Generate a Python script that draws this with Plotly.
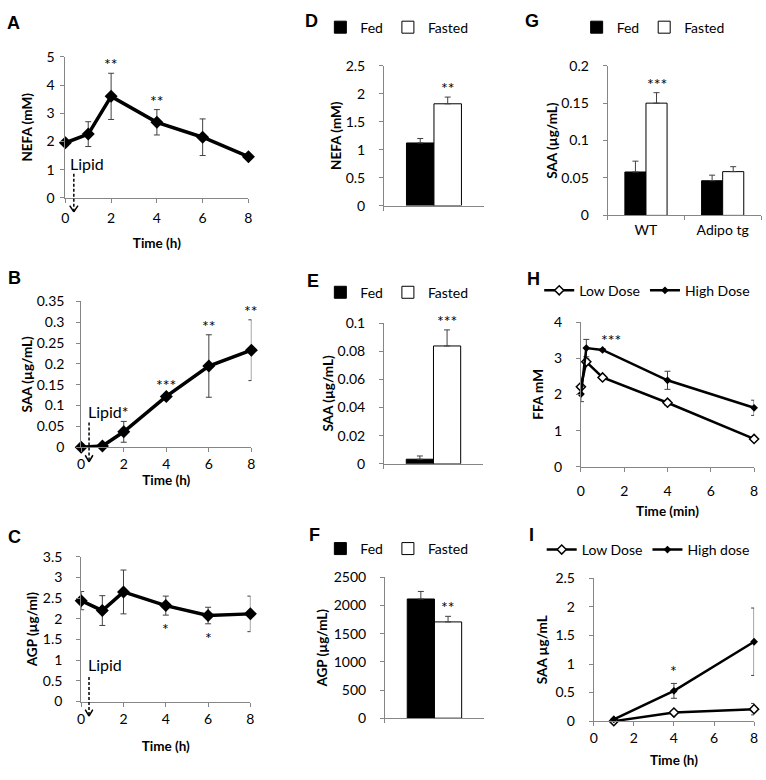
import plotly.graph_objects as go

# ---------------- data ----------------
TIME_H = [0, 1, 2, 4, 6, 8]
TIME_TICKS = [0, 2, 4, 6, 8]

A_NEFA = [1.95, 2.26, 3.60, 2.68, 2.15, 1.46]
A_ERR = [0.10, 0.44, 0.82, 0.45, 0.65, 0.10]
A_SIG = ["", "", "**", "**", "", ""]
A_YTICKS = [0, 1, 2, 3, 4, 5]

B_SAA = [0.0, 0.003, 0.037, 0.122, 0.195, 0.233]
B_ERR = [0.0, 0.002, 0.025, 0.005, 0.075, 0.073]
B_SIG = ["", "", "", "***", "**", "**"]   # the 2 h star is written as "Lipid*"
B_YTICKS = [0, 0.05, 0.1, 0.15, 0.2, 0.25, 0.3, 0.35]

C_AGP = [2.44, 2.20, 2.65, 2.32, 2.08, 2.12]
C_ERR = [0.22, 0.36, 0.53, 0.23, 0.20, 0.43]
C_SIG = ["", "", "", "*", "*", ""]
C_YTICKS = [0, 0.5, 1, 1.5, 2, 2.5, 3, 3.5]

CONDITIONS = ["Fed", "Fasted"]
SINGLE_GROUP = ["All mice"]

D_NEFA = [1.12, 1.82]
D_ERR = [0.08, 0.12]
D_SIG = ["", "**"]
D_YTICKS = [0, 0.5, 1, 1.5, 2, 2.5]

E_SAA = [0.0033, 0.0837]
E_ERR = [0.0023, 0.0114]
E_SIG = ["", "***"]
E_YTICKS = [0, 0.02, 0.04, 0.06, 0.08, 0.1]

F_AGP = [2116, 1709]
F_ERR = [134, 99]
F_SIG = ["", "**"]
F_YTICKS = [0, 500, 1000, 1500, 2000, 2500]

G_GROUPS = ["WT", "Adipo tg"]
G_FED = [0.058, 0.0463]
G_FED_ERR = [0.0145, 0.0075]
G_FASTED = [0.150, 0.0585]
G_FASTED_ERR = [0.014, 0.0066]
G_SIG = ["***", ""]
G_YTICKS = [0, 0.05, 0.1, 0.15, 0.2]

H_TIME = [0, 0.25, 1, 4, 8]
H_LOW = [2.21, 2.90, 2.47, 1.77, 0.77]
H_LOW_ERR = [0.22, 0.08, 0.05, 0.07, 0.05]
H_HIGH = [2.01, 3.28, 3.23, 2.39, 1.63]
H_HIGH_ERR = [0.21, 0.24, 0.03, 0.25, 0.21]
H_SIG = ["", "", "***", "", ""]
H_YTICKS = [0, 1, 2, 3, 4]

I_TIME = [1, 4, 8]
I_LOW = [0.0, 0.15, 0.21]
I_LOW_ERR = [0.01, 0.03, 0.10]
I_HIGH = [0.03, 0.53, 1.39]
I_HIGH_ERR = [0.01, 0.13, 0.59]
I_SIG = ["", "*", ""]
I_YTICKS = [0, 0.5, 1, 1.5, 2, 2.5]

LIPID_TIME = 0.37

# ---------------- styling ----------------
W, H = 766, 780
AXC = "#868686"
ERRC = "#404040"
FONT = "Lato"
TICKFONT = dict(family=FONT, size=14, color="black")
TITLEFONT = dict(family=FONT, size=13.5, color="black", weight="bold")
LEGFONT = dict(family=FONT, size=14, color="black")
STARFONT = dict(family=FONT, size=16, color="black")


def px_x(p0, p1):
    return [p0 / W, p1 / W]


def px_y(top, bottom):
    return [1 - bottom / H, 1 - top / H]


def ax_id(n, letter):
    return letter if n == 1 else f"{letter}{n}"


def fmt(v):
    return f"{v:g}"


fig = go.Figure()
layout = dict(
    width=W, height=H, margin=dict(l=0, r=0, t=0, b=0),
    paper_bgcolor="white", plot_bgcolor="white",
    barmode="group", bargap=0.45, bargroupgap=0,
    font=dict(family=FONT, color="black"),
)
annotations = []
shapes = []


def yaxis(n, dom, xn, ticks, title, standoff, labelstandoff=7):
    layout[f"yaxis{'' if n == 1 else n}"] = dict(
        domain=dom, anchor=ax_id(xn, "x"), range=[ticks[0], ticks[-1]],
        tickmode="array", tickvals=ticks, ticktext=[fmt(t) for t in ticks],
        showline=True, linecolor=AXC, linewidth=1, ticks="outside", ticklen=4,
        tickcolor=AXC, showgrid=False, zeroline=False, tickfont=TICKFONT,
        ticklabelstandoff=labelstandoff,
        title=dict(text=title, font=TITLEFONT, standoff=standoff), fixedrange=True,
    )


def time_xaxis(n, dom, title, standoff, labelstandoff):
    layout[f"xaxis{'' if n == 1 else n}"] = dict(
        domain=dom, anchor=ax_id(n, "y"), range=[0, 8],
        tickmode="array", tickvals=TIME_TICKS, ticktext=[fmt(t) for t in TIME_TICKS],
        showline=True, linecolor=AXC, linewidth=1, ticks="outside", ticklen=4,
        tickcolor=AXC, showgrid=False, zeroline=False, tickfont=TICKFONT,
        ticklabelstandoff=labelstandoff, ticklabeloverflow="allow",
        title=dict(text=title, font=TITLEFONT, standoff=standoff), fixedrange=True,
    )


def cat_xaxis(n, dom, show_labels):
    layout[f"xaxis{'' if n == 1 else n}"] = dict(
        domain=dom, anchor=ax_id(n, "y"), type="category",
        showline=True, linecolor=AXC, linewidth=1, ticks="outside", ticklen=4,
        tickcolor=AXC, tickson="boundaries", showgrid=False, zeroline=False,
        showticklabels=show_labels, tickfont=TICKFONT, fixedrange=True,
    )


def legend(name, cx, cy):
    layout[name] = dict(
        orientation="h", x=cx / W, y=1 - cy / H, xanchor="center", yanchor="middle",
        font=LEGFONT, bgcolor="rgba(0,0,0,0)", itemwidth=30, traceorder="normal",
        itemclick=False, itemdoubleclick=False,
    )


def line_trace(n, x, y, err, name=None, filled=True, size=10, width=3.5, leg=None):
    marker = dict(symbol="diamond", size=size, color="black") if filled else \
        dict(symbol="diamond", size=size, color="white", line=dict(color="black", width=1.5))
    fig.add_trace(go.Scatter(
        x=x, y=y, mode="lines+markers", name=name, showlegend=leg is not None,
        legend=leg if leg else "legend",
        line=dict(color="black", width=width), marker=marker, cliponaxis=False,
        error_y=dict(type="data", array=err, color=ERRC, thickness=1, width=3),
        xaxis=ax_id(n, "x"), yaxis=ax_id(n, "y"), hoverinfo="x+y",
    ))


def bar_traces(n, cats, fed, fed_err, fasted, fasted_err, leg):
    for cond, vals, errs, color in ((CONDITIONS[0], fed, fed_err, "black"),
                                    (CONDITIONS[1], fasted, fasted_err, "white")):
        fig.add_trace(go.Bar(
            x=cats, y=vals, name=cond, legend=leg, showlegend=True,
            marker=dict(color=color, line=dict(color="black", width=1)),
            error_y=dict(type="data", symmetric=False, array=errs,
                         arrayminus=[0] * len(errs), color=ERRC, thickness=1, width=3),
            xaxis=ax_id(n, "x"), yaxis=ax_id(n, "y"), hoverinfo="y",
        ))


def stars(n, x, y, err, sig, below=False, xshift=0, yshift=None):
    for xi, yi, ei, s in zip(x, y, err, sig):
        if not s:
            continue
        annotations.append(dict(
            x=xi, y=(yi - ei) if below else (yi + ei), xref=ax_id(n, "x"), yref=ax_id(n, "y"),
            text=s, showarrow=False, font=STARFONT, xanchor="center",
            yanchor="top" if below else "bottom",
            xshift=xshift, yshift=(yshift if yshift is not None else -2),
        ))


def lipid(n, text, tx, ty, top_dom, tip_dom, head_dx=0.18, head_dy=0.045):
    xr, yr = ax_id(n, "x"), ax_id(n, "y")
    annotations.append(dict(
        x=tx, y=ty, xref=xr, yref=yr, text=text, showarrow=False,
        font=dict(family=FONT, size=16, color="black"), xanchor="left", yanchor="middle",
    ))
    ydr = yr + " domain"
    shapes.append(dict(type="line", xref=xr, yref=ydr, x0=LIPID_TIME, x1=LIPID_TIME,
                       y0=top_dom, y1=tip_dom, line=dict(color="black", width=1.5, dash="3px,2px")))
    for sgn in (-1, 1):
        shapes.append(dict(type="line", xref=xr, yref=ydr,
                           x0=LIPID_TIME + sgn * head_dx, y0=tip_dom + head_dy,
                           x1=LIPID_TIME, y1=tip_dom, line=dict(color="black", width=1.5)))


def letter(txt, x, y):
    annotations.append(dict(
        x=x / W, y=1 - y / H, xref="paper", yref="paper", text=txt, showarrow=False,
        font=dict(family="Liberation Sans", size=18, color="black", weight="bold"),
        xanchor="left", yanchor="middle",
    ))


# ---------------- panel A ----------------
time_xaxis(1, px_x(62, 247), "Time (h)", 13, 3)
yaxis(1, px_y(49, 193), 1, A_YTICKS, "NEFA (mM)", 10, 3)
line_trace(1, TIME_H, A_NEFA, A_ERR)
stars(1, TIME_H, A_NEFA, A_ERR, A_SIG)
lipid(1, "Lipid", 0.12, 1.22, 0.17, -0.10)

# ---------------- panel B ----------------
time_xaxis(2, px_x(78, 250), "Time (h)", 0, 0)
yaxis(2, px_y(299, 448), 2, B_YTICKS, "SAA (µg/mL)", 0, 9)
line_trace(2, TIME_H, B_SAA, B_ERR)
stars(2, TIME_H, B_SAA, B_ERR, B_SIG)
lipid(2, "Lipid*", 0.22, 0.087, 0.17, -0.10)

# ---------------- panel C ----------------
time_xaxis(3, px_x(78, 249), "Time (h)", 15, 1)
yaxis(3, px_y(560, 708), 3, C_YTICKS, "AGP (µg/ml)", 2, 11)
line_trace(3, TIME_H, C_AGP, C_ERR)
stars(3, TIME_H, C_AGP, C_ERR, C_SIG, below=True)
lipid(3, "Lipid", 0.22, 0.9, 0.17, -0.10)

# ---------------- panels D, E, F ----------------
for n, vals, errs, sig, ticks, title, dom_y, dom_x, leg, legy, stand in (
        (4, D_NEFA, D_ERR, D_SIG, D_YTICKS, "NEFA (mM)", px_y(58, 201), px_x(384, 485), "legend", 19, 0),
        (5, E_SAA, E_ERR, E_SIG, E_YTICKS, "SAA (µg/mL)", px_y(321, 465), px_x(384, 484), "legend2", 290, 0),
        (6, F_AGP, F_ERR, F_SIG, F_YTICKS, "AGP (µg/mL)", px_y(581, 725), px_x(385, 485), "legend3", 552, 2)):
    cat_xaxis(n, dom_x, False)
    yaxis(n, dom_y, n, ticks, title, stand, 11)
    bar_traces(n, SINGLE_GROUP, [vals[0]], [errs[0]], [vals[1]], [errs[1]], leg)
    legend(leg, 397, legy)
    cat_px = (dom_x[1] - dom_x[0]) * W
    off = cat_px * (1 - 0.45) / 4
    stars(n, SINGLE_GROUP, [vals[1]], [errs[1]], [sig[1]], xshift=off)

# ---------------- panel G ----------------
gx = px_x(610, 765)
cat_xaxis(7, gx, True)
layout["xaxis7"]["ticklabelstandoff"] = 2
yaxis(7, px_y(58, 211), 7, G_YTICKS, "SAA (µg/mL)", 0, 11)
bar_traces(7, G_GROUPS, G_FED, G_FED_ERR, G_FASTED, G_FASTED_ERR, "legend4")
legend("legend4", 656, 19)
g_off = (gx[1] - gx[0]) * W / 2 * (1 - 0.45) / 4
stars(7, G_GROUPS, G_FASTED, G_FASTED_ERR, G_SIG, xshift=g_off)

# ---------------- panel H ----------------
time_xaxis(8, px_x(583, 758), "Time (min)", 8, 7)
yaxis(8, px_y(320, 468), 8, H_YTICKS, "FFA mM", 7, 11)
line_trace(8, H_TIME, H_LOW, H_LOW_ERR, name="Low Dose", filled=False, size=7, width=2.5, leg="legend5")
line_trace(8, H_TIME, H_HIGH, H_HIGH_ERR, name="High Dose", filled=True, size=6, width=2.5, leg="legend5")
legend("legend5", 650, 288)
stars(8, H_TIME, H_HIGH, H_HIGH_ERR, H_SIG, xshift=8)

# ---------------- panel I ----------------
time_xaxis(9, px_x(596, 758), "Time (h)", 10, 0)
yaxis(9, px_y(582, 728), 9, I_YTICKS, "SAA µg/mL", 4, 11)
line_trace(9, I_TIME, I_LOW, I_LOW_ERR, name="Low Dose", filled=False, size=7, width=2.5, leg="legend6")
line_trace(9, I_TIME, I_HIGH, I_HIGH_ERR, name="High dose", filled=True, size=6, width=2.5, leg="legend6")
legend("legend6", 651, 553)
stars(9, I_TIME, I_HIGH, I_HIGH_ERR, I_SIG, yshift=1)

# ---------------- panel letters ----------------
for txt, x, y in (("A", 1, 14), ("B", 2, 275), ("C", 2, 540), ("D", 302, 12), ("E", 304, 278),
                  ("F", 306, 538), ("G", 524, 12), ("H", 526, 276), ("I", 529, 538)):
    letter(txt, x, y)

layout["annotations"] = annotations
layout["shapes"] = shapes
fig.update_layout(**layout)
# remove the browser's default 8px page margin so the 766x780 figure fills the window exactly
fig.write_html(
    "out.html",
    config={"displayModeBar": False},
    post_script="document.body.style.margin='0';document.body.style.overflow='hidden';",
)
